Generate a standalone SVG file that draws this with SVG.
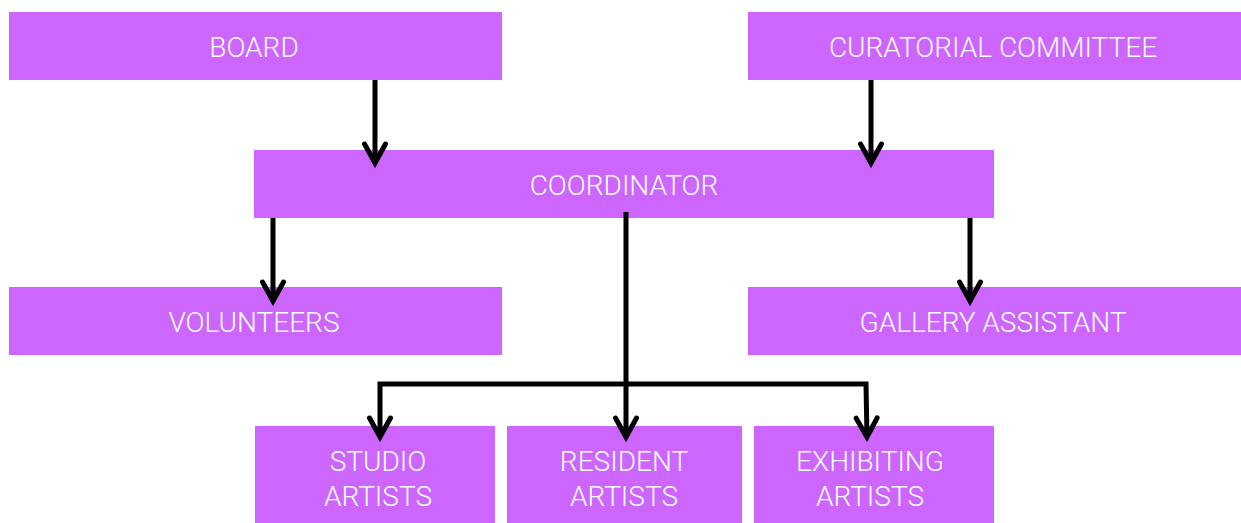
<svg xmlns="http://www.w3.org/2000/svg" width="1241" height="523" viewBox="0 0 1241 523">
<defs>
<style>
.box{fill:#CC66FF;}
.lbl{fill:#FFFFFF;font-family:Roboto,"Liberation Sans",sans-serif;font-weight:300;font-size:28px;text-anchor:middle;}
.con{fill:none;stroke:#000000;stroke-width:5;stroke-linejoin:miter;}
</style>
<marker id="arr" markerUnits="userSpaceOnUse" markerWidth="40" markerHeight="40" refX="0" refY="0" viewBox="-30 -20 40 40" orient="auto" overflow="visible">
<path d="M-19,-10.5 L0,0 L-19,10.5" fill="none" stroke="#000" stroke-width="5" stroke-linecap="round" stroke-linejoin="miter"/>
</marker>
</defs>
<rect width="1241" height="523" fill="#FFFFFF"/>
<g id="board"><rect class="box" x="9" y="12" width="493" height="68"/><text class="lbl" x="254" y="57">BOARD</text></g>
<g id="curatorial"><rect class="box" x="748" y="12" width="493" height="68"/><text class="lbl" x="993" y="57">CURATORIAL COMMITTEE</text></g>
<g id="coordinator"><rect class="box" x="254" y="150" width="740" height="68"/><text class="lbl" x="624" y="195">COORDINATOR</text></g>
<g id="volunteers"><rect class="box" x="9" y="287" width="493" height="68"/><text class="lbl" x="254" y="332">VOLUNTEERS</text></g>
<g id="gallery"><rect class="box" x="748" y="287" width="493" height="68"/><text class="lbl" x="993" y="332">GALLERY ASSISTANT</text></g>
<g id="studio"><rect class="box" x="255" y="426" width="240" height="97"/><text class="lbl" x="378" y="471">STUDIO</text><text class="lbl" x="378" y="506">ARTISTS</text></g>
<g id="resident"><rect class="box" x="507" y="426" width="235" height="97"/><text class="lbl" x="624" y="471">RESIDENT</text><text class="lbl" x="624" y="506">ARTISTS</text></g>
<g id="exhibiting"><rect class="box" x="754" y="426" width="240" height="97"/><text class="lbl" x="870" y="471">EXHIBITING</text><text class="lbl" x="870" y="506">ARTISTS</text></g>
<g id="connectors">
<path class="con" d="M375,80 L375,163" marker-end="url(#arr)"/>
<path class="con" d="M871,80 L871,163" marker-end="url(#arr)"/>
<path class="con" d="M273,218 L273,301" marker-end="url(#arr)"/>
<path class="con" d="M970,218 L970,301" marker-end="url(#arr)"/>
<path class="con" d="M626,212 L626,437" marker-end="url(#arr)"/>
<path class="con" d="M626,384 L380,384 L380,437" marker-end="url(#arr)"/>
<path class="con" d="M626,384 L866,384 L867,437" marker-end="url(#arr)"/>
</g>
</svg>
